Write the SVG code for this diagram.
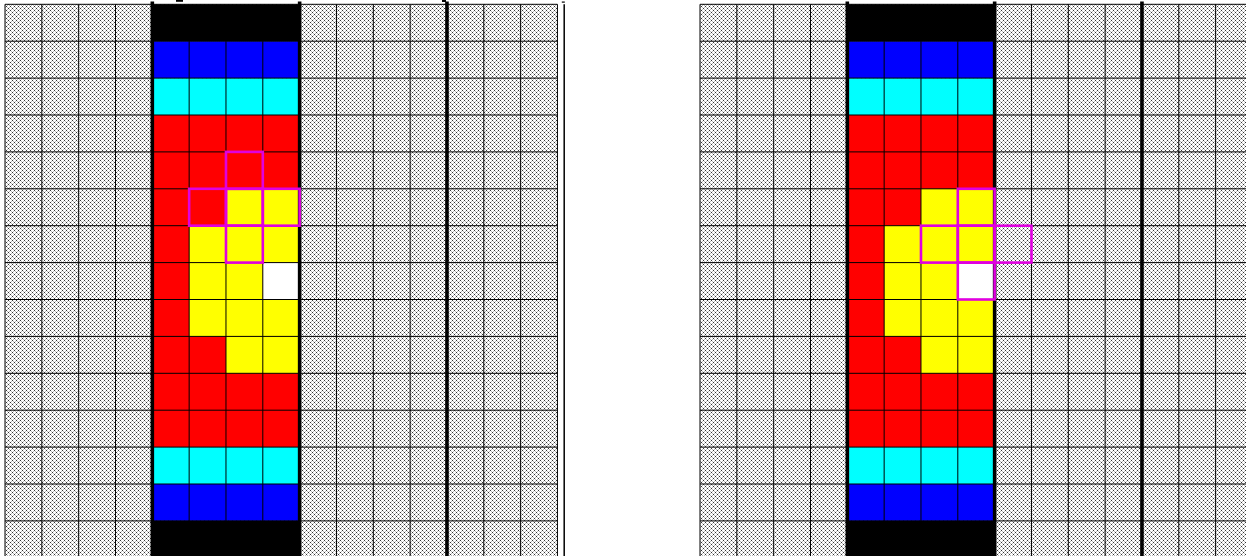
<svg xmlns="http://www.w3.org/2000/svg" xmlns:xlink="http://www.w3.org/1999/xlink" width="1246" height="556" viewBox="0 0 1246 556">
  <style>
    .grid { fill: none; stroke: #000; stroke-width: 1; }
    .thick { stroke: #000; stroke-width: 3.6; }
    .hl { fill: none; stroke: #e000e0; stroke-width: 2.6; }
    .red { fill: #ff0000; }
    .yel { fill: #ffff00; }
    .cya { fill: #00ffff; }
    .blu { fill: #0000ff; }
    .blk { fill: #000000; }
    .wht { fill: #ffffff; }
  </style>
  <defs>
    <pattern id="stip" patternUnits="userSpaceOnUse" width="4" height="4">
      <rect width="4" height="4" fill="#ffffff"/>
      <rect x="0" y="0" width="1" height="1" fill="#333333"/>
      <rect x="2" y="2" width="1" height="1" fill="#333333"/>
      <rect x="1" y="1" width="1" height="1" fill="#bbbbbb"/>
      <rect x="3" y="1" width="1" height="1" fill="#bbbbbb"/>
      <rect x="1" y="3" width="1" height="1" fill="#bbbbbb"/>
      <rect x="3" y="3" width="1" height="1" fill="#bbbbbb"/>
    </pattern>
    <g id="panel">
      <!-- stippled background -->
      <rect x="5" y="4.3" width="552.45" height="552" fill="url(#stip)"/>
      <!-- colour column -->
      <rect class="blk" x="152.32" y="4.3" width="147.32" height="36.9"/>
      <rect class="blu" x="152.32" y="41.2" width="147.32" height="36.9"/>
      <rect class="cya" x="152.32" y="78.1" width="147.32" height="36.9"/>
      <rect class="red" x="152.32" y="115" width="147.32" height="332.1"/>
      <rect class="yel" x="225.98" y="188.8" width="73.66" height="36.9"/>
      <rect class="yel" x="189.15" y="225.7" width="110.49" height="36.9"/>
      <rect class="yel" x="189.15" y="262.6" width="73.66" height="36.9"/>
      <rect class="wht" x="262.81" y="262.6" width="36.83" height="36.9"/>
      <rect class="yel" x="189.15" y="299.5" width="110.49" height="36.9"/>
      <rect class="yel" x="225.98" y="336.4" width="73.66" height="36.9"/>
      <rect class="cya" x="152.32" y="447.1" width="147.32" height="36.9"/>
      <rect class="blu" x="152.32" y="484" width="147.32" height="36.9"/>
      <!-- grid lines -->
      <path class="grid" d="M5,4.3V556 M41.83,4.3V556 M78.66,4.3V556 M115.49,4.3V556 M189.15,41.2V520.9 M225.98,41.2V520.9 M262.81,41.2V520.9 M336.47,4.3V556 M373.3,4.3V556 M410.13,4.3V556 M483.79,4.3V556 M520.62,4.3V556 M557.45,4.3V556 M5,4.3H557.45 M5,41.2H557.45 M5,78.1H557.45 M5,115H557.45 M5,151.9H557.45 M5,188.8H557.45 M5,225.7H557.45 M5,262.6H557.45 M5,299.5H557.45 M5,336.4H557.45 M5,373.3H557.45 M5,410.2H557.45 M5,447.1H557.45 M5,484H557.45 M5,520.9H557.45"/>
      <!-- black bottom band over lines -->
      <rect class="blk" x="152.32" y="520.9" width="147.32" height="36"/>
      <!-- thick separators -->
      <path class="thick" d="M152.32,1.5V556 M299.64,1.5V556 M446.96,1.5V556"/>
    </g>
  </defs>

  <g id="left-panel">
    <use xlink:href="#panel" href="#panel"/>
    <rect x="176" y="0" width="7" height="1.8" fill="#000"/>
    <rect x="442" y="0" width="4" height="2" fill="#000"/>
    <g id="left-highlight">
      <rect class="hl" x="225.98" y="151.9" width="36.83" height="36.9"/>
      <rect class="hl" x="189.15" y="188.8" width="36.83" height="36.9"/>
      <rect class="hl" x="225.98" y="188.8" width="36.83" height="36.9"/>
      <rect class="hl" x="262.81" y="188.8" width="36.83" height="36.9"/>
      <rect class="hl" x="225.98" y="225.7" width="36.83" height="36.9"/>
    </g>
  </g>

  <g id="divider">
    <path d="M564.2,4.3V556" stroke="#000" stroke-width="1.5"/>
    <rect x="561.8" y="1.5" width="3" height="1.2" fill="#000"/>
  </g>

  <g id="right-panel">
    <use xlink:href="#panel" href="#panel" transform="translate(695,0)"/>
    <g id="right-highlight">
      <rect class="hl" x="957.81" y="188.8" width="36.83" height="36.9"/>
      <rect class="hl" x="920.98" y="225.7" width="36.83" height="36.9"/>
      <rect class="hl" x="957.81" y="225.7" width="36.83" height="36.9"/>
      <rect class="hl" x="994.64" y="225.7" width="36.83" height="36.9"/>
      <rect class="hl" x="957.81" y="262.6" width="36.83" height="36.9"/>
    </g>
  </g>
</svg>
